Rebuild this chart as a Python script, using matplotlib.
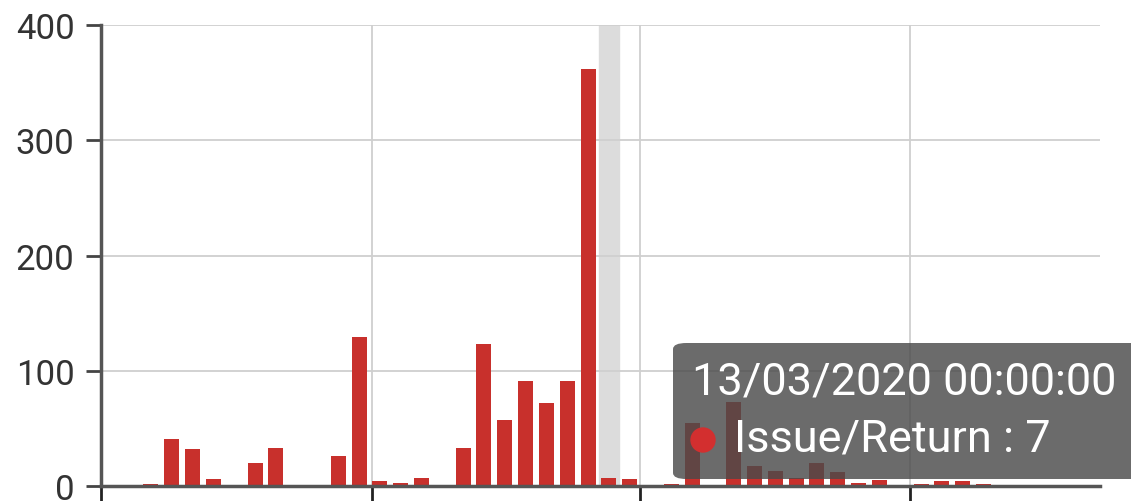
import pandas as pd
import matplotlib.pyplot as plt
import matplotlib.dates as mdates
from matplotlib.patches import FancyBboxPatch, Ellipse

# daily Issue/Return counts, starting 20/02/2020
start_date = "2020-02-20"
counts = [2, 41, 32, 6, 0, 20, 33, 0, 0, 26,
          129, 4, 3, 7, 0, 33, 123, 57, 91, 72,
          91, 362, 7, 6, 0, 2, 55, 0, 73, 17,
          13, 7, 20, 12, 3, 5, 0, 2, 4, 4,
          2, 0, 0, 0, 0]
series_name = "Issue/Return"
hover_date = "2020-03-13"
y_ticks = [0, 100, 200, 300, 400]

W, H = 1131, 502


def main():
    dates = pd.date_range(start_date, periods=len(counts), freq="D")
    x = mdates.date2num(dates)
    x0 = x[0]

    fig = plt.figure(figsize=(W / 100, H / 100), dpi=100)
    ax = fig.add_axes([101 / W, 15 / H, 999 / W, 461 / H])

    # hover band behind the highlighted day
    hx = mdates.date2num(pd.Timestamp(hover_date))
    ax.axvspan(hx - 0.48, hx + 0.48, color="#dcdcdc", zorder=0)

    ax.bar(x, counts, width=0.72, color="#c8302c", zorder=2)

    ax.set_ylim(0, 400)
    ax.set_xlim(x0 - 2.40, x0 + 45.6)
    ax.set_yticks(y_ticks)
    ax.set_xticks([x0 - 2.40, x0 + 10.62, x0 + 23.5, x0 + 36.47])
    ax.set_xticklabels([])
    ax.tick_params(axis="y", labelsize=25, colors="#444444", length=11,
                   width=2, pad=8, labelcolor="#333333")
    ax.tick_params(axis="x", length=16, width=2, colors="#222222")
    for lab in ax.get_yticklabels():
        lab.set_family("Roboto")
    ax.grid(True, color="#cfcfcf", linewidth=1.3, zorder=0)
    ax.set_axisbelow(True)
    for side in ["top", "right"]:
        ax.spines[side].set_visible(False)
    ax.spines["left"].set_color("#555555")
    ax.spines["left"].set_linewidth(2.5)
    ax.spines["bottom"].set_color("#555555")
    ax.spines["bottom"].set_linewidth(2.5)

    # tooltip
    box = FancyBboxPatch((673 / W, 22 / H), 0.6, 136 / H,
                         boxstyle="round,pad=0,rounding_size=0.012",
                         transform=fig.transFigure, facecolor="#4a4a4a",
                         edgecolor="none", alpha=0.82, zorder=5)
    fig.patches.append(box)
    label = pd.Timestamp(hover_date).strftime("%d/%m/%Y %H:%M:%S")
    fig.text(692 / W, 119 / H, label, color="white", fontsize=32.5,
             family="Roboto", va="center", ha="left", zorder=6)
    fig.text(734 / W, 62 / H, f"{series_name} : {counts[22]}",
             color="white", fontsize=32.5, family="Roboto", va="center",
             ha="left", zorder=6)
    fig.add_artist(Ellipse((703 / W, 61 / H), 24 / W, 24 / H,
                           transform=fig.transFigure, color="#d32f2f",
                           zorder=6))

    fig.savefig("out.png", dpi=100)


if __name__ == "__main__":
    main()
